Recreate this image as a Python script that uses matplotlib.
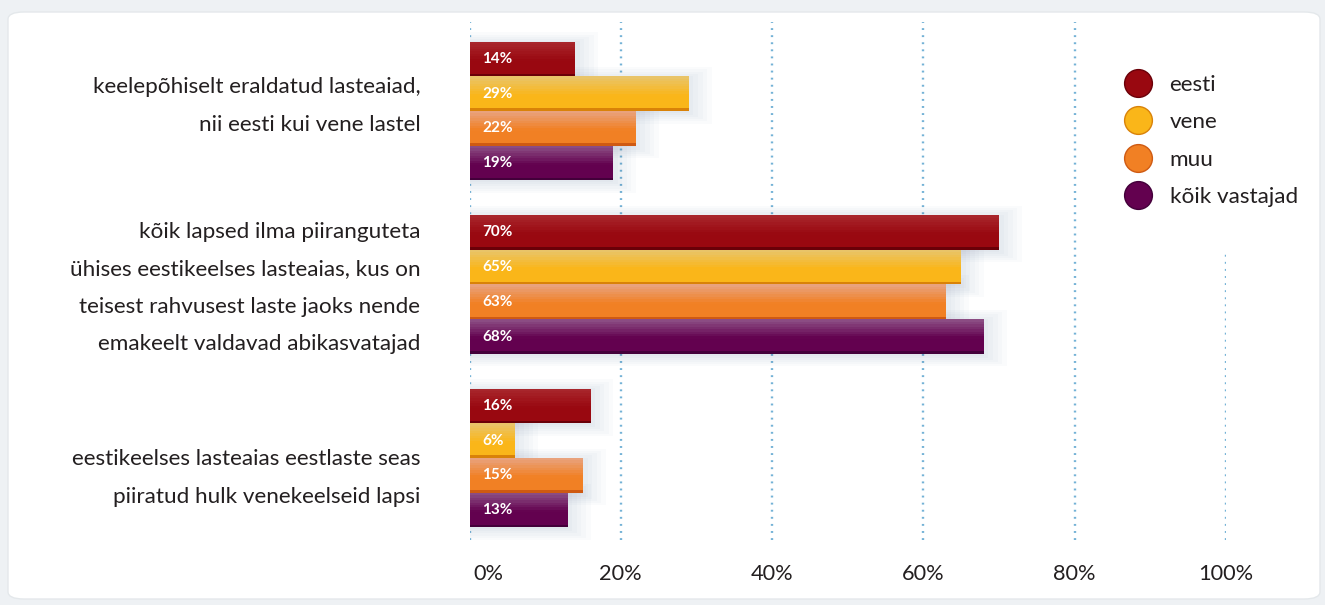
import numpy as np
import matplotlib.pyplot as plt
from matplotlib.lines import Line2D
from matplotlib.patches import FancyBboxPatch
from matplotlib.colors import to_rgb
from matplotlib.transforms import ScaledTranslation

# --- data -------------------------------------------------------------
categories = [
    "keelepõhiselt eraldatud lasteaiad,\nnii eesti kui vene lastel",
    "kõik lapsed ilma piiranguteta\nühises eestikeelses lasteaias, kus on\n"
    "teisest rahvusest laste jaoks nende\nemakeelt valdavad abikasvatajad",
    "eestikeelses lasteaias eestlaste seas\npiiratud hulk venekeelseid lapsi",
]
series = ["eesti", "vene", "muu", "kõik vastajad"]
eesti = [14, 70, 16]
vene = [29, 65, 6]
muu = [22, 63, 15]
koik = [19, 68, 13]
ticks = [0, 20, 40, 60, 80, 100]
tick_labels = ["0%", "20%", "40%", "60%", "80%", "100%"]

values = [eesti, vene, muu, koik]
# base colour, lighter top, dark bottom edge
base_cols = ["#990810", "#fab619", "#f18024", "#63014f"]
top_cols = ["#a8262c", "#e9c468", "#e9a27c", "#8b4c83"]
edge_cols = ["#6a0008", "#d98208", "#cf5a12", "#43003a"]

plt.rcParams['font.family'] = ['Lato', 'DejaVu Sans']
TXT = '#231f20'
FS = 16.2


def mix(c1, c2, t):
    a, b = np.array(to_rgb(c1)), np.array(to_rgb(c2))
    return tuple(a + (b - a) * t)


fig = plt.figure(figsize=(13.25, 6.05), dpi=100)
fig.patch.set_facecolor('#eef1f4')
card = FancyBboxPatch((8 / 1325, 1 - 599 / 605), 1312 / 1325, 587 / 605,
                      boxstyle="round,pad=0,rounding_size=0.012",
                      transform=fig.transFigure, fc='white', ec='#e4e8eb', lw=1,
                      zorder=-5)
fig.add_artist(card)

ax = fig.add_axes([469.5 / 1325, 1 - 540 / 605, (1226 - 469.5) / 1325, 518 / 605])
ax.set_facecolor('none')

y = np.arange(len(categories))
h = 0.2
offsets = (np.arange(len(series)) - 1.5) * h

# gridlines
for t in ticks:
    ax.axvline(t, ymin=0, ymax=0.56 if t == 100 else 1, color='#74b2d6',
               lw=1.7, ls=(0, (0.8, 2.2)), zorder=0)

# soft shadow behind each group
for i in range(len(categories)):
    grp = [v[i] for v in values]
    for s in range(6):
        ax.barh(y[i] + offsets + 0.01, np.array(grp) + 0.6 * s, height=h + 0.025 * s,
                color='#3c5a80', alpha=0.022, lw=0, zorder=1)

# bars with vertical gradient
N = 14
for k, (vals, b, tcol, e) in enumerate(zip(values, base_cols, top_cols, edge_cols)):
    yy = y + offsets[k]
    for j in range(N):
        frac = j / (N - 1)
        col = e if j == N - 1 else mix(tcol, b, min(1, frac / 0.55))
        ax.barh(yy - h / 2 + (j + 0.5) * h / N, vals, height=h / N * 1.02,
                color=col, lw=0, antialiased=False, zorder=2)
    for yi, v in zip(yy, vals):
        ax.annotate(f"{v}%", (0, yi), xytext=(9, 0), textcoords='offset points',
                    ha='left', va='center', color='white', fontsize=11,
                    fontweight='bold', zorder=3)

# category labels
label_shift = [-0.03, 0.02, 0.115]
for i, lab in enumerate(categories):
    ax.text(-6.5, y[i] + label_shift[i], lab, ha='right', va='center',
            fontsize=FS, color=TXT, linespacing=2.09, clip_on=False)

ax.set_xlim(0, 100)
ax.set_ylim(2.473, -0.513)
ax.set_yticks([])
ax.set_xticks(ticks, tick_labels)
ax.tick_params(axis='x', length=0, pad=17, labelsize=15.7, labelcolor=TXT)
zero_lbl = ax.get_xticklabels()[0]
zero_lbl.set_ha('left')
zero_lbl.set_transform(zero_lbl.get_transform() + ScaledTranslation(3 / 72, 0, fig.dpi_scale_trans))
for sp in ax.spines.values():
    sp.set_visible(False)

handles = [Line2D([], [], marker='o', ls='', markersize=20, markerfacecolor=b,
                  markeredgecolor=e, markeredgewidth=1)
           for b, e in zip(base_cols, edge_cols)]
ax.legend(handles, series, loc='center left', frameon=False,
          bbox_to_anchor=(1123.5 / 1325, 1 - 141 / 605), bbox_transform=fig.transFigure,
          fontsize=FS, labelspacing=0.77, handlelength=1.25, handletextpad=0.8,
          borderpad=0, borderaxespad=0, labelcolor=TXT)

fig.savefig('out.png', dpi=100, facecolor=fig.get_facecolor())
